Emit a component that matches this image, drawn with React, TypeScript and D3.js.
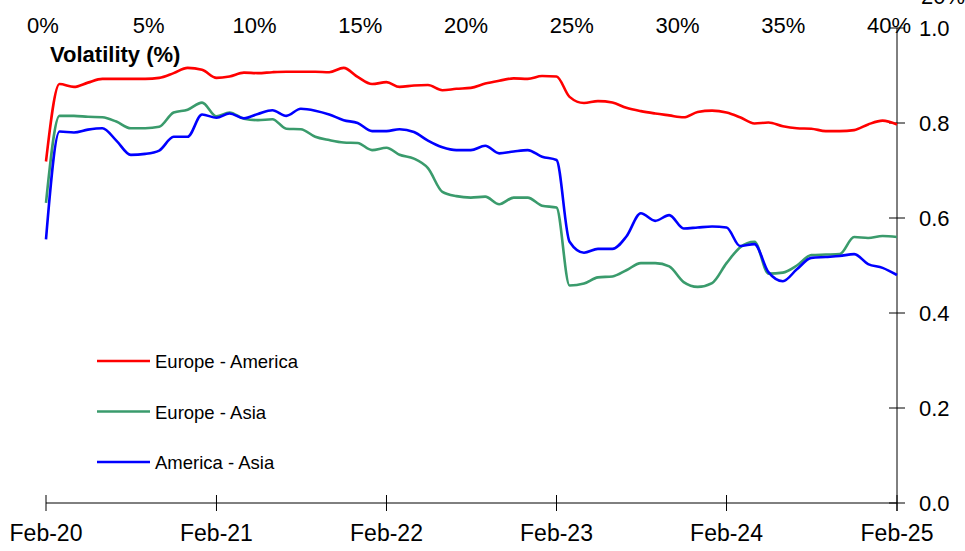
import * as d3 from "d3";
import { useRef, useEffect } from "react";

// monthly observations, Feb-20 .. Feb-25
const months = d3.timeMonth.range(new Date(2020, 1, 1), new Date(2025, 1, 2));

const europeAmerica = [
  0.719, 0.882, 0.876, 0.885, 0.893, 0.893, 0.893, 0.893, 0.895, 0.905, 0.916, 0.912,
  0.895, 0.898, 0.906, 0.905, 0.907, 0.908, 0.908, 0.908, 0.907, 0.916, 0.897, 0.882,
  0.886, 0.876, 0.879, 0.880, 0.869, 0.872, 0.874, 0.883, 0.889, 0.894, 0.893, 0.899,
  0.898, 0.855, 0.842, 0.846, 0.843, 0.832, 0.825, 0.820, 0.816, 0.812, 0.823, 0.826,
  0.822, 0.812, 0.799, 0.801, 0.793, 0.789, 0.788, 0.783, 0.783, 0.785, 0.797, 0.805,
  0.797,
];

const europeAsia = [
  0.632, 0.815, 0.815, 0.813, 0.812, 0.803, 0.789, 0.789, 0.792, 0.822, 0.828, 0.843,
  0.814, 0.822, 0.809, 0.806, 0.808, 0.788, 0.787, 0.771, 0.764, 0.759, 0.758, 0.743,
  0.748, 0.733, 0.725, 0.705, 0.655, 0.646, 0.643, 0.645, 0.629, 0.643, 0.643, 0.626,
  0.622, 0.458, 0.462, 0.475, 0.477, 0.490, 0.505, 0.505, 0.498, 0.465, 0.455, 0.463,
  0.505, 0.538, 0.550, 0.483, 0.485, 0.500, 0.522, 0.523, 0.524, 0.560, 0.558, 0.562,
  0.560,
];

const americaAsia = [
  0.555, 0.782, 0.780, 0.786, 0.789, 0.763, 0.733, 0.735, 0.742, 0.771, 0.771, 0.818,
  0.811, 0.820, 0.810, 0.819, 0.827, 0.815, 0.830, 0.826, 0.818, 0.806, 0.800, 0.783,
  0.783, 0.787, 0.781, 0.763, 0.749, 0.743, 0.743, 0.752, 0.736, 0.740, 0.743, 0.729,
  0.722, 0.550, 0.527, 0.535, 0.535, 0.561, 0.610, 0.594, 0.606, 0.578, 0.580, 0.582,
  0.580, 0.541, 0.545, 0.486, 0.467, 0.492, 0.516, 0.518, 0.520, 0.524, 0.503, 0.495,
  0.480,
];

const seriesNames = ["Europe - America", "Europe - Asia", "America - Asia"];
const seriesColors = ["#ff0000", "#3a9b6c", "#0000ff"];
const yTicks = [0, 0.2, 0.4, 0.6, 0.8, 1.0];
const topTicks = [0, 5, 10, 15, 20, 25, 30, 35, 40];
const xTickYears = [2020, 2021, 2022, 2023, 2024, 2025];

const W = 965;
const H = 551;
const font = "'Liberation Sans', Arial, sans-serif";

const App = () => {
  const ref = useRef(null);

  useEffect(() => {
    const svg = d3.select(ref.current);
    svg.selectAll("*").remove();

    const x = d3.scaleTime()
      .domain([new Date(2020, 1, 1), new Date(2025, 1, 1)])
      .range([46, 897]);
    const y = d3.scaleLinear().domain([0, 1]).range([503, 28]);
    const top = d3.scaleLinear().domain([0, 40]).range([43, 889]);

    // bottom axis
    const bottom = svg.append("g").attr("transform", `translate(0, ${y(0)})`);
    bottom.append("line")
      .attr("x1", x(months[0])).attr("x2", x(months[months.length - 1]))
      .attr("stroke", "#000").attr("stroke-width", 1);
    xTickYears.forEach(yr => {
      const d = new Date(yr, 1, 1);
      bottom.append("line")
        .attr("x1", x(d)).attr("x2", x(d)).attr("y1", -8).attr("y2", 8)
        .attr("stroke", "#000");
      bottom.append("text")
        .attr("x", x(d)).attr("y", 38)
        .attr("text-anchor", "middle")
        .style("font-family", font).style("font-size", "23px")
        .text(d3.timeFormat("%b-%y")(d));
    });

    // right axis
    const right = svg.append("g").attr("transform", `translate(${x(months[months.length - 1])}, 0)`);
    right.append("line")
      .attr("y1", y(1)).attr("y2", y(0) + 8)
      .attr("stroke", "#000");
    yTicks.forEach(t => {
      right.append("line")
        .attr("x1", -8).attr("x2", 8).attr("y1", y(t)).attr("y2", y(t))
        .attr("stroke", "#000");
      right.append("text")
        .attr("x", 22).attr("y", y(t) + 8)
        .style("font-family", font).style("font-size", "22px")
        .text(d3.format(".1f")(t));
    });

    // top percent labels
    topTicks.forEach(t => {
      svg.append("text")
        .attr("x", top(t)).attr("y", 33)
        .attr("text-anchor", "middle")
        .style("font-family", font).style("font-size", "22px")
        .text(t + "%");
    });
    svg.append("text")
      .attr("x", 943).attr("y", 4)
      .attr("text-anchor", "middle")
      .style("font-family", font).style("font-size", "22px")
      .text("20%");

    svg.append("text")
      .attr("x", 50).attr("y", 62)
      .style("font-family", font).style("font-size", "22px").style("font-weight", "bold")
      .text("Volatility (%)");

    const line = d3.line()
      .x((d, i) => x(months[i]))
      .y(d => y(d))
      .curve(d3.curveMonotoneX);

    [europeAmerica, europeAsia, americaAsia].forEach((s, i) => {
      svg.append("path")
        .attr("d", line(s))
        .attr("fill", "none")
        .attr("stroke", seriesColors[i])
        .attr("stroke-width", 2.6);
    });

    // legend
    seriesNames.forEach((name, i) => {
      const ly = 361 + i * 50.5;
      svg.append("line")
        .attr("x1", 97).attr("x2", 150).attr("y1", ly).attr("y2", ly)
        .attr("stroke", seriesColors[i]).attr("stroke-width", 2.6);
      svg.append("text")
        .attr("x", 155).attr("y", ly + 7)
        .style("font-family", font).style("font-size", "18.5px")
        .text(name);
    });
  }, []);

  return (
    <svg ref={ref} width={W} height={H}
      style={{ position: "absolute", left: 0, top: 0, background: "#fff" }} />
  );
};

export default App;
